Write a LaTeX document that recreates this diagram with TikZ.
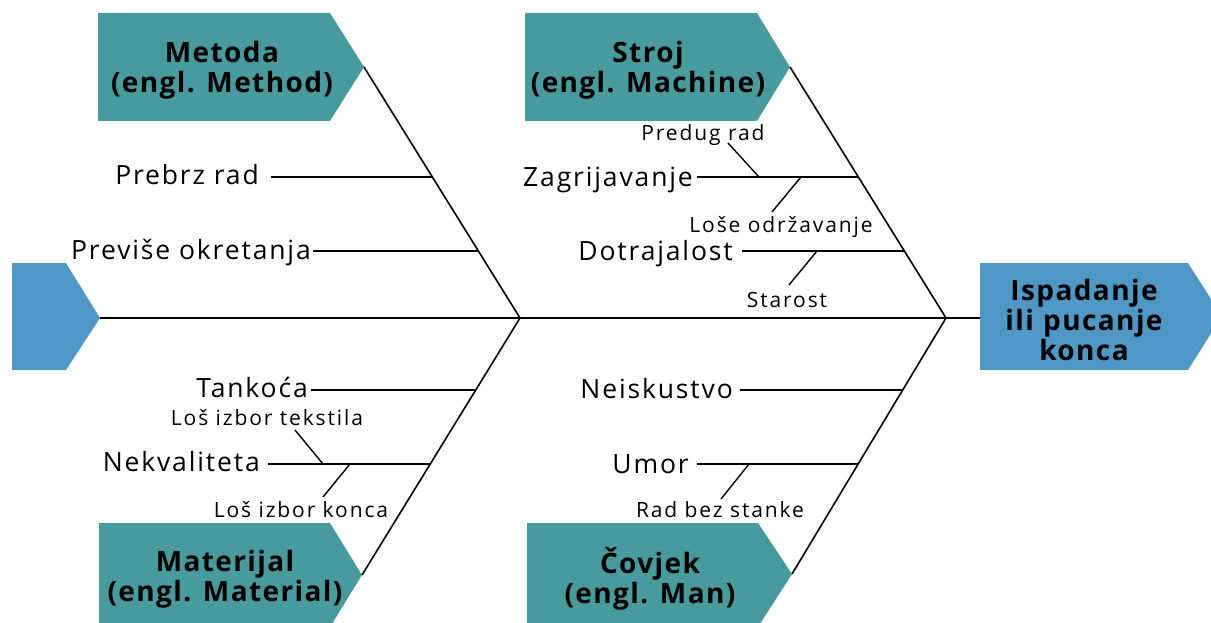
\documentclass[tikz,border=0pt]{standalone}
\usepackage{fontspec}
\setmainfont{Open Sans}
\newfontfamily\lblfont{Open Sans}[LetterSpace=7]
\newfontfamily\smlfont{Open Sans}[LetterSpace=9]
\newfontfamily\catfont{Open Sans}[LetterSpace=5]
\definecolor{catteal}{HTML}{489A9C}
\definecolor{headblue}{HTML}{4F98C6}
\tikzset{
  big/.style={font=\lblfont\fontsize{26.5}{28}\selectfont, inner sep=0pt, anchor=base east},
  small/.style={font=\smlfont\fontsize{21}{24}\selectfont, inner sep=0pt, anchor=base},
  cat/.style={font=\catfont\bfseries\fontsize{28}{30}\selectfont, align=center, inner sep=0pt},
  bone/.style={line width=1.6pt, black},
  ribline/.style={line width=1.4pt, black},
  catbox/.style={fill=catteal, draw=none},
  headbox/.style={fill=headblue, draw=none}
}
\begin{document}
\begin{tikzpicture}[x=1pt,y=-1pt]
\useasboundingbox (0,0) rectangle (1211,623);
% shapes
\fill[headbox] (12,263) -- (66,263) -- (100,318) -- (66,370) -- (12,370) -- cycle;
\fill[headbox] (980,263) -- (1188,263) -- (1222,316) -- (1188,370) -- (980,370) -- cycle;
\fill[catbox] (98,13) -- (330,13) -- (364,67) -- (330,121) -- (98,121) -- cycle;
\fill[catbox] (525,13) -- (757,13) -- (790,67) -- (757,121) -- (525,121) -- cycle;
\fill[catbox] (99,523) -- (330,523) -- (362,575) -- (330,627) -- (99,627) -- cycle;
\fill[catbox] (527,523) -- (758,523) -- (792,574) -- (758,627) -- (527,627) -- cycle;
% category labels
\node[cat] (metoda) at (222,70) {Metoda\\(engl. Method)};
\node[cat] (stroj) at (648,70) {Stroj\\(engl. Machine)};
\node[cat] (materijal) at (225,579) {Materijal\\(engl. Material)};
\node[cat] (covjek) at (650,579) {Čovjek\\(engl. Man)};
\node[cat, text width=200pt] (head) at (1084,320) {Ispadanje\\ili pucanje\\konca};
% coordinates
\coordinate (tailtip) at (100,318);
\coordinate (headin) at (980,318);
\coordinate (jl) at (520,318);
\coordinate (jr) at (946,318);
\coordinate (metTip) at (364,67);
\coordinate (strTip) at (790,67);
\coordinate (matTip) at (362,575);
\coordinate (covTip) at (792,574);
% spine and bones
\draw[bone] (tailtip) -- (headin);
\draw[bone] (metTip) -- (jl);
\draw[bone] (matTip) -- (jl);
\draw[bone] (strTip) -- (jr);
\draw[bone] (covTip) -- (jr);
% ribs
\coordinate (r1a) at (271,177); \coordinate (r1b) at (432.4,177);
\coordinate (r2a) at (313,251); \coordinate (r2b) at (478.4,251);
\coordinate (r3a) at (697,177); \coordinate (r3b) at (857.9,177);
\coordinate (r4a) at (742,251); \coordinate (r4b) at (903.6,251);
\coordinate (r5a) at (311,390); \coordinate (r5b) at (475.7,390);
\coordinate (r6a) at (268,464); \coordinate (r6b) at (430.2,464);
\coordinate (r7a) at (740,390); \coordinate (r7b) at (903.3,390);
\coordinate (r8a) at (697,464); \coordinate (r8b) at (858.2,464);
\foreach \i in {1,...,8} {\draw[ribline] (r\i a) -- (r\i b);}
\node[big] (prebrz) at (259,185) {Prebrz rad};
\node[big] (previse) at (311,259) {Previše okretanja};
\node[big] (zagr) at (693,186) {Zagrijavanje};
\node[big] (dotr) at (733,260) {Dotrajalost};
\node[big] (tank) at (308,397) {Tankoća};
\node[big] (nekv) at (260,471) {Nekvaliteta};
\node[big] (neisk) at (733,398) {Neiskustvo};
\node[big] (umor) at (689,473) {Umor};
% sub-causes
\coordinate (s1a) at (728,143); \coordinate (s1b) at (759,177);
\coordinate (s2a) at (772,212); \coordinate (s2b) at (801,177);
\coordinate (s3a) at (789,285); \coordinate (s3b) at (817,251);
\coordinate (s4a) at (295,430); \coordinate (s4b) at (323,464);
\coordinate (s5a) at (323,497); \coordinate (s5b) at (350,464);
\coordinate (s6a) at (721,499); \coordinate (s6b) at (749,464);
\foreach \i in {1,...,6} {\draw[ribline] (s\i a) -- (s\i b);}
\node[small] (predug) at (703,141) {Predug rad};
\node[small] (lose) at (781,233) {Loše održavanje};
\node[small] (starost) at (787,307) {Starost};
\node[small] (tekst) at (267,425) {Loš izbor tekstila};
\node[small] (konca) at (301,517) {Loš izbor konca};
\node[small] (stanke) at (720,517) {Rad bez stanke};
\end{tikzpicture}
\end{document}
